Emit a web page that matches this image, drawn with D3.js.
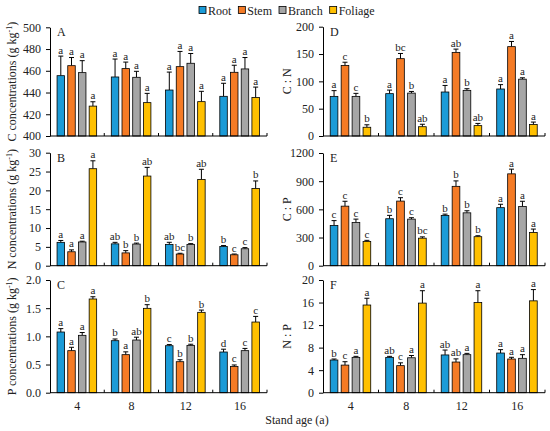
<!DOCTYPE html>
<html>
<head>
<meta charset="utf-8">
<script src="https://cdn.jsdelivr.net/npm/d3@7"></script>
<style>
  body { margin: 0; background: #fff; }
  svg, svg text { font-family: "Liberation Serif", "DejaVu Serif", serif; }
</style>
</head>
<body>
<svg width="550" height="431"></svg>
<script>
// stand ages and tissues
var ages = ["4", "8", "12", "16"];
var tissues = ["Root", "Stem", "Branch", "Foliage"];
var colors = ["#1b9bd7", "#f57b25", "#a6a6a6", "#ffc000"];

// values per tissue, in stand-age order
var cConc = [[455.5, 454.3, 442.3, 436.5], [464.7, 462, 463.8, 458.6], [458.3, 454, 466.9, 461.7], [427.5, 430.7, 431.6, 435.5]];
var cConcErr = [[18, 16.5, 16.5, 12], [7.5, 6, 14, 6.5], [11, 5.5, 9, 10.5], [4, 8.5, 9.5, 9.5]];
var cConcSig = [["a", "a", "a", "a"], ["a", "a", "a", "a"], ["a", "a", "a", "a"], ["a", "a", "a", "a"]];

var nConc = [[6.2, 5.8, 5.66, 5.1], [3.7, 3.4, 3.1, 2.9], [6.3, 5.75, 5.66, 4.5], [25.75, 23.8, 22.9, 20.5]];
var nConcErr = [[0.5, 0.4, 0.55, 0.25], [0.5, 0.6, 0.2, 0.2], [0.2, 0.25, 0.2, 0.3], [2.1, 2.3, 2.7, 2.0]];
var nConcSig = [["a", "ab", "ab", "b"], ["a", "b", "bc", "c"], ["a", "b", "b", "c"], ["a", "ab", "ab", "b"]];

var pConc = [[1.077, 0.923, 0.834, 0.722], [0.746, 0.675, 0.55, 0.467], [1.018, 0.935, 0.84, 0.746], [1.663, 1.497, 1.426, 1.254]];
var pConcErr = [[0.06, 0.03, 0.02, 0.05], [0.06, 0.05, 0.035, 0.025], [0.05, 0.05, 0.02, 0.04], [0.04, 0.065, 0.04, 0.1]];
var pConcSig = [["a", "b", "c", "d"], ["a", "a", "b", "c"], ["a", "ab", "b", "c"], ["a", "b", "b", "c"]];

var cn = [[72.5, 77.5, 80.5, 86], [129, 141.5, 153, 163.5], [72.5, 78.5, 83.5, 104], [16, 17, 19, 21]];
var cnErr = [[10.5, 6.5, 12, 8], [6, 9.5, 6, 9.5], [5.5, 3, 3, 2.5], [4.5, 4.5, 4, 4.5]];
var cnSig = [["a", "a", "a", "a"], ["c", "bc", "ab", "a"], ["c", "b", "b", "a"], ["b", "ab", "ab", "a"]];

var cp = [[428, 500, 535, 618], [634, 688, 845, 978], [460, 496, 563, 630], [258, 293, 309, 354]];
var cpErr = [[52, 36, 14, 36], [52, 36, 58, 50], [36, 15, 22, 56], [12, 14, 10, 36]];
var cpSig = [["c", "b", "b", "a"], ["c", "c", "b", "a"], ["c", "c", "b", "a"], ["c", "bc", "b", "a"]];

var np = [[5.8, 6.27, 6.7, 7.04], [4.9, 4.8, 5.44, 5.98], [6.27, 6.2, 6.75, 6.1], [15.56, 15.9, 16.0, 16.3]];
var npErr = [[0.18, 0.18, 0.87, 0.6], [0.6, 0.5, 0.56, 0.3], [0.18, 0.4, 0.23, 0.65], [1.2, 2.2, 2.1, 2.0]];
var npSig = [["b", "ab", "ab", "a"], ["c", "c", "ab", "a"], ["a", "a", "a", "a"], ["a", "a", "a", "a"]];

var serif = "Liberation Serif, DejaVu Serif, serif";
var svg = d3.select("svg").attr("font-family", serif);

var panels = [
  {id: "A", v: cConc, e: cConcErr, s: cConcSig, dom: [400, 500], ticks: d3.range(400, 501, 20), fmt: d3.format("d"),
   label: "C concentrations", unit: true, x: [50, 267], y: [136, 27.3], lx: 12},
  {id: "B", v: nConc, e: nConcErr, s: nConcSig, dom: [0, 30], ticks: d3.range(0, 31, 5), fmt: d3.format("d"),
   label: "N concentrations", unit: true, x: [50, 267], y: [265.7, 152.7], lx: 12},
  {id: "C", v: pConc, e: pConcErr, s: pConcSig, dom: [0, 2], ticks: d3.range(0, 2.01, 0.5), fmt: d3.format(".1f"),
   label: "P concentrations", unit: true, x: [50, 267], y: [392.7, 280], lx: 12},
  {id: "D", v: cn, e: cnErr, s: cnSig, dom: [0, 200], ticks: d3.range(0, 201, 50), fmt: d3.format("d"),
   label: "C : N", unit: false, x: [323, 545], y: [136, 26.7], lx: 287},
  {id: "E", v: cp, e: cpErr, s: cpSig, dom: [0, 1200], ticks: d3.range(0, 1201, 300), fmt: d3.format("d"),
   label: "C : P", unit: false, x: [323, 545], y: [265.7, 153], lx: 287},
  {id: "F", v: np, e: npErr, s: npSig, dom: [0, 20], ticks: d3.range(0, 21, 4), fmt: d3.format("d"),
   label: "N : P", unit: false, x: [323, 545], y: [392.7, 280], lx: 287}
];

panels.forEach(function (p) {
  var g = svg.append("g");
  var x0 = d3.scaleBand().domain(ages).range(p.x);
  var cw = x0.bandwidth();
  var x1 = d3.scaleBand().domain(tissues)
    .range([cw * 0.13, cw * 0.86]).paddingInner(0.3);
  var y = d3.scaleLinear().domain(p.dom).range(p.y);

  // y axis, ticks outward
  var yAxis = g.append("g")
    .attr("transform", "translate(" + p.x[0] + ",0)")
    .call(d3.axisLeft(y).tickValues(p.ticks).tickFormat(p.fmt).tickSize(4).tickSizeOuter(0));
  yAxis.attr("font-family", serif).attr("font-size", 12);
  yAxis.select(".domain").attr("stroke", "#000");
  yAxis.selectAll("text").attr("fill", "#222").attr("dx", "-2");

  // bars with upper error bars
  tissues.forEach(function (t, ti) {
    ages.forEach(function (a, ai) {
      var val = p.v[ti][ai], err = p.e[ti][ai];
      var bx = x0(a) + x1(t), bw = x1.bandwidth();
      var cx = bx + bw / 2;
      g.append("line")
        .attr("x1", cx).attr("x2", cx)
        .attr("y1", y(val)).attr("y2", y(val + err))
        .attr("stroke", "#000").attr("stroke-width", 1);
      g.append("line")
        .attr("x1", cx - 2.5).attr("x2", cx + 2.5)
        .attr("y1", y(val + err)).attr("y2", y(val + err))
        .attr("stroke", "#000").attr("stroke-width", 1);
      g.append("rect")
        .attr("x", bx).attr("width", bw)
        .attr("y", y(val)).attr("height", y(p.dom[0]) - y(val))
        .attr("fill", colors[ti]).attr("stroke", "#000").attr("stroke-width", 0.8);
      g.append("text")
        .attr("x", cx).attr("y", y(val + err) - 2.5)
        .attr("text-anchor", "middle").attr("font-size", 11).attr("fill", "#222")
        .text(p.s[ti][ai]);
    });
  });

  // x axis line with inward ticks between groups
  var base = y(p.dom[0]);
  g.append("line").attr("x1", p.x[0]).attr("x2", p.x[1])
    .attr("y1", base).attr("y2", base).attr("stroke", "#000");
  ages.forEach(function (a) {
    var tx = x0(a) + cw;
    g.append("line").attr("x1", tx).attr("x2", tx)
      .attr("y1", base).attr("y2", base - 3).attr("stroke", "#000");
  });

  if (p.id === "C" || p.id === "F") {
    ages.forEach(function (a) {
      g.append("text").attr("x", x0(a) + cw / 2).attr("y", 410)
        .attr("text-anchor", "middle").attr("font-size", 12).attr("fill", "#222").text(a);
    });
  }

  // panel letter
  g.append("text").attr("x", p.x[0] + 7).attr("y", p.y[1] + 9)
    .attr("font-size", 12).attr("fill", "#222").text(p.id);

  // y label
  var cy = (p.y[0] + p.y[1]) / 2;
  var lab = g.append("text")
    .attr("transform", "translate(" + (p.lx + 4) + "," + cy + ") rotate(-90)")
    .attr("text-anchor", "middle").attr("font-size", 12).attr("fill", "#222");
  lab.append("tspan").text(p.label);
  if (p.unit) {
    lab.append("tspan").text(" (g kg");
    lab.append("tspan").attr("font-size", 8).attr("dy", -4).text("-1");
    lab.append("tspan").attr("dy", 4).text(")");
  }
});

svg.append("text").attr("x", 297).attr("y", 424)
  .attr("text-anchor", "middle").attr("font-size", 12).attr("fill", "#222").text("Stand age (a)");

// legend
var lx = 199;
tissues.forEach(function (t, i) {
  svg.append("rect").attr("x", lx).attr("y", 6.5).attr("width", 7).attr("height", 7)
    .attr("fill", colors[i]).attr("stroke", "#000").attr("stroke-width", 0.8);
  var tx = svg.append("text").attr("x", lx + 9).attr("y", 14.5)
    .attr("font-size", 12).attr("fill", "#222").text(t);
  lx += 9 + tx.node().getComputedTextLength() + 7;
});
</script>
</body>
</html>
